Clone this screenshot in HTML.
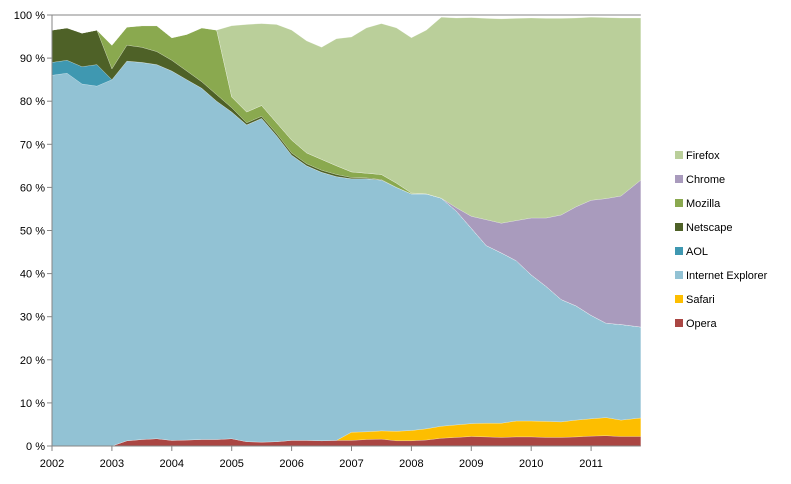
<!DOCTYPE html>
<html><head><meta charset="utf-8"><style>
body{margin:0;background:#fff;font-family:"Liberation Sans",sans-serif;}
svg text{font-family:"Liberation Sans",sans-serif;font-size:11px;fill:#000;}
</style></head><body>
<svg id="chart" width="791" height="479" viewBox="0 0 791 479" xmlns="http://www.w3.org/2000/svg">
<g id="areas"></g>
<g id="axes"></g>
<g id="legend"></g>
</svg>
<script>
const times=[2002,2002.25,2002.5,2002.75,2003,2003.25,2003.5,2003.75,2004,2004.25,2004.5,2004.75,2005,2005.25,2005.5,2005.75,2006,2006.25,2006.5,2006.75,2007,2007.25,2007.5,2007.75,2008,2008.25,2008.5,2008.75,2009,2009.25,2009.5,2009.75,2010,2010.25,2010.5,2010.75,2011,2011.25,2011.5,2011.83];
const opera=[0,0,0,0,0,1.2,1.5,1.7,1.3,1.4,1.5,1.5,1.7,1.0,0.9,1.0,1.3,1.3,1.2,1.3,1.3,1.5,1.6,1.2,1.2,1.4,1.8,2.0,2.2,2.1,2.0,2.1,2.1,2.0,2.0,2.1,2.3,2.4,2.2,2.2];
const safari=[0,0,0,0,0,0,0,0,0,0,0,0,0,0,0,0,0,0,0,0,1.9,1.8,1.9,2.2,2.4,2.6,2.8,2.9,3.0,3.2,3.3,3.7,3.7,3.7,3.6,3.9,4.0,4.2,3.8,4.3];
const ie=[86,86.5,84,83.5,85,88.1,87.5,86.8,85.7,83.6,81.5,78.5,75.8,73.5,75.1,71,66.2,63.7,62.3,61.2,58.8,58.7,58.2,56.6,54.9,54.5,52.9,49.6,45.3,41.2,39.5,37.2,33.9,31.3,28.4,26.5,24,21.9,22.2,21.1];
const aol=[3,3,4,5,0,0,0,0,0,0,0,0,0,0,0,0,0,0,0,0,0,0,0,0,0,0,0,0,0,0,0,0,0,0,0,0,0,0,0,0];
const netscape=[7.5,7.5,7.8,8,2.5,3.7,3.5,3,2.5,2,1.5,1.5,1,0.5,0.5,0.5,0.5,0.5,0.5,0.5,0.3,0.2,0.1,0,0,0,0,0,0,0,0,0,0,0,0,0,0,0,0,0];
const mozilla=[0,0,0,0,5.5,4.2,5,6,5.2,8.5,12.5,15,2.5,2.5,2.5,2.5,3,2.5,2.5,2,1.3,1.1,1.2,1,0.2,0,0,0,0,0,0,0,0,0,0,0,0,0,0,0];
const chrome=[0,0,0,0,0,0,0,0,0,0,0,0,0,0,0,0,0,0,0,0,0,0,0,0,0,0,0,0.8,2.8,6,6.9,9.3,13.2,15.9,19.6,23,26.7,28.9,29.8,34.1];
const firefox=[0,0,0,0,0,0,0,0,0,0,0,0,16.5,20.3,19,22.8,25.5,26,26,29.5,31.3,33.7,35,36,36,38,42,44,46.1,46.7,47.4,46.9,46.4,46.3,45.6,43.8,42.5,42,41.3,37.6];
const seriesNames=["Opera","Safari","Internet Explorer","AOL","Netscape","Mozilla","Chrome","Firefox"];
const seriesColors=["#aa4643","#fdbe00","#92c2d4","#3f98b1","#4e6127","#8aa94f","#a99bbd","#bacf9a"];
const yTicks=[0,10,20,30,40,50,60,70,80,90,100];
const xTicks=[2002,2003,2004,2005,2006,2007,2008,2009,2010,2011];

const NS="http://www.w3.org/2000/svg";
const X0=52,PXY=59.9,Y0=446,Y1=15;
const xs=t=>X0+(t-2002)*PXY;
const ys=v=>Y0-(v/100)*(Y0-Y1);
function mk(tag,attrs,parent){const e=document.createElementNS(NS,tag);for(const k in attrs)e.setAttribute(k,attrs[k]);parent.appendChild(e);return e;}
const series=[opera,safari,ie,aol,netscape,mozilla,chrome,firefox];
const areas=document.getElementById('areas');
let base=times.map(()=>0);
series.forEach((s,si)=>{
  const top=base.map((b,i)=>b+s[i]);
  let d="M"+times.map((t,i)=>xs(t).toFixed(1)+","+ys(top[i]).toFixed(1)).join(" L");
  for(let i=times.length-1;i>=0;i--)d+=" L"+xs(times[i]).toFixed(1)+","+ys(base[i]).toFixed(1);
  d+=" Z";
  const p=mk('path',{d:d,fill:seriesColors[si],stroke:'#ffffff','stroke-width':'0.4','stroke-opacity':'0.5'},areas);
  
  
  base=top;
});
const ax=document.getElementById('axes');
const gl=mk('line',{x1:X0,y1:ys(100),x2:xs(2011.83),y2:ys(100),stroke:'#868686','stroke-width':1},ax);


const ya=mk('line',{x1:X0,y1:Y1,x2:X0,y2:Y0,stroke:'#868686','stroke-width':1},ax);


const xa=mk('line',{x1:X0,y1:Y0,x2:xs(2011.83),y2:Y0,stroke:'#868686','stroke-width':1},ax);


yTicks.forEach(v=>{
  const tk=mk('line',{x1:X0-5,y1:ys(v),x2:X0,y2:ys(v),stroke:'#868686'},ax);
  
  
  const tx=mk('text',{x:X0-7,y:ys(v)+4,'text-anchor':'end'},ax);
  tx.textContent=v+" %";
  
  
});
xTicks.forEach(v=>{
  const tk=mk('line',{x1:xs(v),y1:Y0,x2:xs(v),y2:Y0+5,stroke:'#868686'},ax);
  
  
  const tx=mk('text',{x:xs(v),y:Y0+21,'text-anchor':'middle'},ax);
  tx.textContent=String(v);
  
  
});
const lg=document.getElementById('legend');
for(let k=seriesNames.length-1,r=0;k>=0;k--,r++){
  const y=155+r*24;
  const g=mk('g',{},lg);
  
  
  mk('rect',{x:675,y:y-4,width:8,height:8,fill:seriesColors[k]},g);
  const t=mk('text',{x:686,y:y+4},g);
  t.textContent=seriesNames[k];
}
</script>
</body></html>
